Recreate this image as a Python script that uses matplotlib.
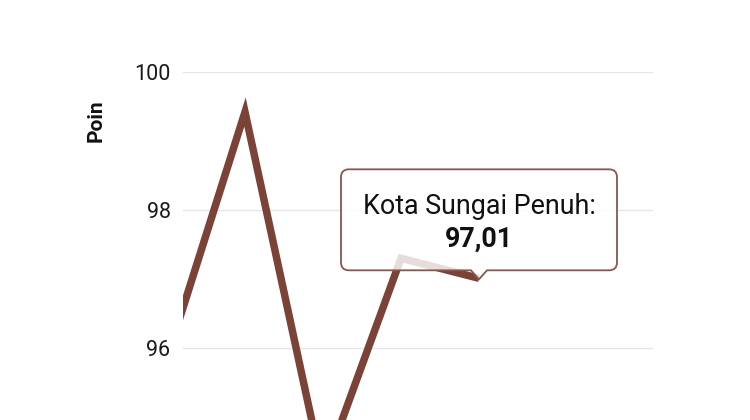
import numpy as np
import matplotlib
matplotlib.use("Agg")
import matplotlib.pyplot as plt
from matplotlib.path import Path
from matplotlib.patches import PathPatch

plt.rcParams['font.family'] = ['Roboto', 'DejaVu Sans']

# data
positions = [0, 1, 2, 3, 4]
values = [95.85, 99.42, 94.2, 97.30, 97.01]
yticks = [96, 98, 100]
tip_index = 4
tip_label = "Kota Sungai Penuh:"
tip_value = "97,01"

line_color = "#7b4238"
border_color = "#85574f"

fig = plt.figure(figsize=(7.5, 4.2), dpi=100)
ax = fig.add_axes([183 / 750, 0.0, 470 / 750, 1 - 72 / 420])

ax.plot(positions, values, color=line_color, lw=5.4, solid_joinstyle="miter",
        solid_capstyle="butt", zorder=3)

ax.set_ylim(96 - 72 / 69, 100)
ax.set_xlim((183 - 167) / 78, (653 - 167) / 78)
ax.set_yticks(yticks)
ax.set_yticklabels([str(t) for t in yticks], fontsize=15.5, color="#1a1a1a")
ax.set_xticks([])
ax.tick_params(axis="y", length=0, pad=9)
for s in ax.spines.values():
    s.set_visible(False)
ax.grid(axis="y", color="#e6e6e6", lw=1)
ax.set_axisbelow(True)

fig.text(96 / 750, 1 - 121 / 420, "Poin", rotation=90, fontsize=15,
         fontweight="bold", ha="center", va="center", color="#111111")

# tooltip drawn in pixels, anchored at the hovered point
fig.canvas.draw()
px, py = ax.transData.transform((positions[tip_index], values[tip_index]))
py -= 1
L, R, B, T, r, w = -138, 138, 9, 110, 8, 8
verts = [(-w, B), (0, 0), (w, B), (R - r, B), (R, B), (R, B + r),
         (R, T - r), (R, T), (R - r, T), (L + r, T), (L, T), (L, T - r),
         (L, B + r), (L, B), (L + r, B), (-w, B)]
codes = [Path.MOVETO, Path.LINETO, Path.LINETO, Path.LINETO,
         Path.CURVE3, Path.CURVE3, Path.LINETO, Path.CURVE3, Path.CURVE3,
         Path.LINETO, Path.CURVE3, Path.CURVE3, Path.LINETO,
         Path.CURVE3, Path.CURVE3, Path.CLOSEPOLY]
verts = [(px + vx, py + vy) for vx, vy in verts]
tip = PathPatch(Path(verts, codes), facecolor=(1, 1, 1, 0.82),
                edgecolor=border_color, lw=1.3, transform=None, zorder=5)
fig.add_artist(tip)

fig.text(px / 750, (py + 73) / 420, tip_label, fontsize=19.4, ha="center",
         va="center", color="#111111", zorder=6)
fig.text(px / 750, (py + 40) / 420, tip_value, fontsize=19.4, fontweight="bold",
         ha="center", va="center", color="#111111", zorder=6)

fig.savefig("out.png", dpi=100)
